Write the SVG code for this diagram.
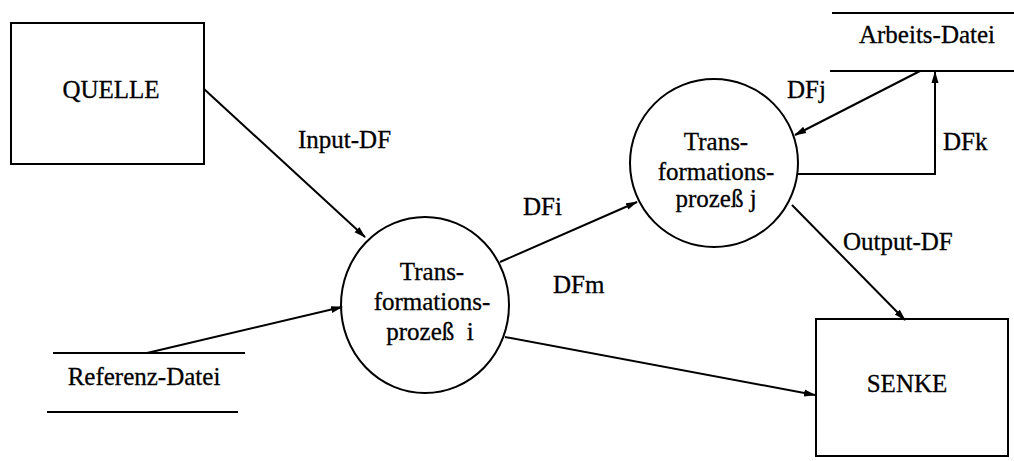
<svg xmlns="http://www.w3.org/2000/svg" width="1014" height="461" viewBox="0 0 1014 461">
  <style>
    .box { fill: none; stroke: #000; stroke-width: 2; }
    .store { stroke: #000; stroke-width: 2; }
    .flow { fill: none; stroke: #000; stroke-width: 2; }
    text { font-family: "Liberation Serif", "Times New Roman", serif; font-size: 25px; fill: #000; stroke: #000; stroke-width: 0.3; }
    .c { text-anchor: middle; }
  </style>
  <defs>
    <marker id="arrow" markerUnits="userSpaceOnUse" markerWidth="12" markerHeight="10" refX="11" refY="4" orient="auto">
      <path d="M0,0.5 L12,4 L0,7.5 Z" fill="#000"/>
    </marker>
  </defs>

  <rect width="1014" height="461" fill="#fff"/>

  <!-- data flows -->
  <g id="connectors">
    <path class="flow" d="M204,89 L365,237" marker-end="url(#arrow)"/>
    <path class="flow" d="M147,353 L342,307" marker-end="url(#arrow)"/>
    <path class="flow" d="M500,262 L637,202" marker-end="url(#arrow)"/>
    <path class="flow" d="M920,71 L795,135" marker-end="url(#arrow)"/>
    <path class="flow" d="M798,174 L935,174 L935,72" marker-end="url(#arrow)"/>
    <path class="flow" d="M792,205 L905,320" marker-end="url(#arrow)"/>
    <path class="flow" d="M505,337 L815,395" marker-end="url(#arrow)"/>
    <text x="298" y="148">Input-DF</text>
    <text x="523" y="215">DFi</text>
    <text x="787" y="98">DFj</text>
    <text x="943" y="150">DFk</text>
    <text x="843" y="250">Output-DF</text>
    <text x="553" y="293">DFm</text>
  </g>

  <!-- source -->
  <g id="quelle">
    <rect class="box" x="11" y="23" width="193" height="141"/>
    <text class="c" x="111" y="98">QUELLE</text>
  </g>

  <!-- sink -->
  <g id="senke">
    <rect class="box" x="816" y="319" width="192" height="137"/>
    <text class="c" x="907" y="392">SENKE</text>
  </g>

  <!-- process i -->
  <g id="prozess-i">
    <ellipse class="box" cx="425" cy="305" rx="84" ry="88"/>
    <text class="c" x="432" y="280">Trans-</text>
    <text class="c" x="432" y="310">formations-</text>
    <text class="c" x="430" y="340" xml:space="preserve">prozeß  i</text>
  </g>

  <!-- process j -->
  <g id="prozess-j">
    <ellipse class="box" cx="714" cy="163" rx="84" ry="84"/>
    <text class="c" x="716" y="150">Trans-</text>
    <text class="c" x="716" y="180">formations-</text>
    <text class="c" x="716" y="207">prozeß j</text>
  </g>

  <!-- data stores -->
  <g id="arbeits-datei">
    <line class="store" x1="832" y1="13" x2="1014" y2="13"/>
    <line class="store" x1="830" y1="71" x2="1014" y2="71"/>
    <text class="c" x="927" y="43">Arbeits-Datei</text>
  </g>

  <g id="referenz-datei">
    <line class="store" x1="53" y1="353" x2="245" y2="353"/>
    <line class="store" x1="47" y1="412" x2="238" y2="412"/>
    <text class="c" x="144" y="385">Referenz-Datei</text>
  </g>
</svg>
